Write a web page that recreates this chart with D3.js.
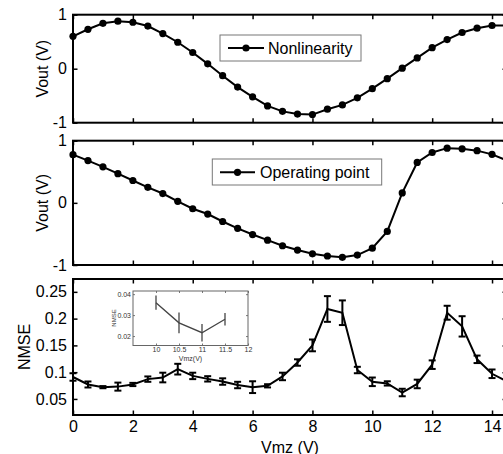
<!DOCTYPE html>
<html>
<head>
<meta charset="utf-8">
<script src="https://cdn.jsdelivr.net/npm/d3@7"></script>
<style>
    body { margin: 0; background: #fff; }
    svg { display: block; font-family: "Liberation Sans", Arial, sans-serif; }
</style>
</head>
<body>
<svg width="503" height="454"></svg>
<script>
const vmz = [0, 0.5, 1, 1.5, 2, 2.5, 3, 3.5, 4, 4.5, 5, 5.5, 6, 6.5, 7, 7.5,
    8, 8.5, 9, 9.5, 10, 10.5, 11, 11.5, 12, 12.5, 13, 13.5, 14, 14.5];

const nonlinearity = [0.60, 0.73, 0.84, 0.88, 0.86, 0.79, 0.65, 0.49, 0.30, 0.09,
    -0.13, -0.34, -0.52, -0.69, -0.79, -0.84, -0.85, -0.75, -0.67, -0.54,
    -0.37, -0.185, 0.01, 0.20, 0.39, 0.54, 0.67, 0.75, 0.80, 0.80];

const operatingPoint = [0.775, 0.68, 0.58, 0.47, 0.36, 0.25, 0.15, 0.025, -0.095, -0.18,
    -0.30, -0.41, -0.51, -0.60, -0.69, -0.76, -0.82, -0.855, -0.876, -0.84,
    -0.73, -0.46, 0.16, 0.65, 0.81, 0.88, 0.87, 0.84, 0.78, 0.68];

const nmse = [0.091, 0.077, 0.072, 0.073, 0.077, 0.087, 0.090, 0.1056, 0.093, 0.0875,
    0.0825, 0.076, 0.072, 0.0745, 0.092, 0.118, 0.150, 0.218, 0.211, 0.104,
    0.082, 0.079, 0.062, 0.078, 0.114, 0.211, 0.1855, 0.124, 0.097, 0.083];
const nmseErr = [0.007, 0.0056, 0.002, 0.0075, 0.003, 0.005, 0.009, 0.010, 0.006, 0.005,
    0.006, 0.006, 0.011, 0.003, 0.007, 0.006, 0.011, 0.024, 0.023, 0.006,
    0.008, 0.004, 0.007, 0.008, 0.008, 0.013, 0.019, 0.007, 0.008, 0.008];

// zoomed inset
const insetVmz = [10, 10.5, 11, 11.5];
const insetNmse = [0.0359, 0.0263, 0.0216, 0.028];
const insetErr = [0.0034, 0.005, 0.0042, 0.003];

const xTicks = [0, 2, 4, 6, 8, 10, 12, 14];
const voutTicks = [-1, 0, 1];
const nmseTicks = [0.05, 0.1, 0.15, 0.2, 0.25];
const insetXTicks = [10, 10.5, 11, 11.5, 12];
const insetYTicks = [0.02, 0.03, 0.04];

document.addEventListener("DOMContentLoaded", function() {

    const svg = d3.select("svg");

    const x = d3.scaleLinear().domain([0, 14.5]).range([73, 507]);

    const panels = [
        { y: d3.scaleLinear().domain([-1, 1]).range([122.7, 14.7]), ticks: voutTicks, label: "Vout (V)" },
        { y: d3.scaleLinear().domain([-1, 1]).range([265, 140.7]), ticks: voutTicks, label: "Vout (V)" },
        { y: d3.scaleLinear().domain([0.02, 0.274]).range([415, 279]), ticks: nmseTicks, label: "NMSE" }
    ];

    panels.forEach(function(p, i) {
        const g = svg.append("g");
        const [bottom, top] = p.y.range();

        const axes = [
            { ax: d3.axisBottom(x).tickValues(xTicks).tickFormat(i === 2 ? d3.format("d") : ""), t: `translate(0,${bottom})` },
            { ax: d3.axisTop(x).tickValues(xTicks).tickFormat(""), t: `translate(0,${top})` },
            { ax: d3.axisLeft(p.y).tickValues(p.ticks).tickFormat(d => String(d)), t: `translate(${x.range()[0]},0)` },
            { ax: d3.axisRight(p.y).tickValues(p.ticks).tickFormat(""), t: `translate(${x.range()[1]},0)` }
        ];
        axes.forEach(function(a) {
            const ag = g.append("g")
                .attr("transform", a.t)
                .call(a.ax.tickSizeInner(-4.5).tickSizeOuter(0).tickPadding(6));
            ag.select(".domain").remove();
            ag.selectAll(".tick line").attr("stroke", "#000").attr("stroke-width", 1.5);
            ag.selectAll(".tick text").attr("fill", "#000").attr("font-size", 16)
                .attr("font-family", "Liberation Sans, Arial, sans-serif");
        });

        g.append("rect")
            .attr("x", x.range()[0]).attr("y", top)
            .attr("width", x.range()[1] - x.range()[0]).attr("height", bottom - top)
            .attr("fill", "none").attr("stroke", "#000").attr("stroke-width", 2);

        g.append("text")
            .attr("transform", `translate(${i === 2 ? 30 : 47.5},${(top + bottom) / 2}) rotate(-90)`)
            .attr("text-anchor", "middle")
            .attr("font-size", 16)
            .text(p.label);
    });

    // line + marker series in first two panels
    [nonlinearity, operatingPoint].forEach(function(vals, i) {
        const y = panels[i].y;
        const line = d3.line().x((d, k) => x(vmz[k])).y(d => y(d));
        svg.append("path")
            .datum(vals)
            .attr("d", line)
            .attr("fill", "none").attr("stroke", "#000").attr("stroke-width", 2);
        svg.append("g").selectAll("circle")
            .data(vals)
            .enter()
            .append("circle")
            .attr("cx", (d, k) => x(vmz[k]))
            .attr("cy", d => y(d))
            .attr("r", 3.6)
            .attr("fill", "#000");
    });

    // legends
    const legends = [
        { text: "Nonlinearity", box: [220, 35, 141, 26], line: [228, 264], cy: 48, tx: 268, ty: 54 },
        { text: "Operating point", box: [212.3, 159, 169.4, 26], line: [220, 255], cy: 172.3, tx: 260, ty: 178.3 }
    ];
    legends.forEach(function(l) {
        const g = svg.append("g");
        g.append("rect")
            .attr("x", l.box[0]).attr("y", l.box[1]).attr("width", l.box[2]).attr("height", l.box[3])
            .attr("fill", "#fff").attr("stroke", "#777").attr("stroke-width", 1);
        g.append("line")
            .attr("x1", l.line[0]).attr("x2", l.line[1]).attr("y1", l.cy).attr("y2", l.cy)
            .attr("stroke", "#000").attr("stroke-width", 2);
        g.append("circle")
            .attr("cx", (l.line[0] + l.line[1]) / 2).attr("cy", l.cy).attr("r", 3.6).attr("fill", "#000");
        g.append("text")
            .attr("x", l.tx).attr("y", l.ty).attr("font-size", 16).text(l.text);
    });

    // NMSE with error bars
    const yN = panels[2].y;
    svg.append("path")
        .datum(nmse)
        .attr("d", d3.line().x((d, k) => x(vmz[k])).y(d => yN(d)))
        .attr("fill", "none").attr("stroke", "#000").attr("stroke-width", 2);
    const bars = svg.append("g").selectAll("g")
        .data(nmse)
        .enter()
        .append("g")
        .attr("stroke", "#000").attr("stroke-width", 2);
    bars.append("line")
        .attr("x1", (d, k) => x(vmz[k])).attr("x2", (d, k) => x(vmz[k]))
        .attr("y1", (d, k) => yN(d - nmseErr[k])).attr("y2", (d, k) => yN(d + nmseErr[k]));
    [-1, 1].forEach(function(s) {
        bars.append("line")
            .attr("x1", (d, k) => x(vmz[k]) - 3.5).attr("x2", (d, k) => x(vmz[k]) + 3.5)
            .attr("y1", (d, k) => yN(d + s * nmseErr[k])).attr("y2", (d, k) => yN(d + s * nmseErr[k]));
    });

    // inset
    const ix = d3.scaleLinear().domain([9.5, 12]).range([133, 248]);
    const iy = d3.scaleLinear().domain([0.0155, 0.0415]).range([345.5, 291]);
    const inset = svg.append("g");
    inset.append("rect")
        .attr("x", 133).attr("y", 291).attr("width", 115).attr("height", 54.5)
        .attr("fill", "#fff");

    const insetAxes = [
        { ax: d3.axisBottom(ix).tickValues(insetXTicks).tickFormat(d => String(d)), t: "translate(0,345.5)" },
        { ax: d3.axisTop(ix).tickValues(insetXTicks).tickFormat(""), t: "translate(0,291)" },
        { ax: d3.axisLeft(iy).tickValues(insetYTicks).tickFormat(d => String(d)), t: "translate(133,0)" },
        { ax: d3.axisRight(iy).tickValues(insetYTicks).tickFormat(""), t: "translate(248,0)" }
    ];
    insetAxes.forEach(function(a) {
        const ag = inset.append("g")
            .attr("transform", a.t)
            .call(a.ax.tickSizeInner(-2).tickSizeOuter(0).tickPadding(2));
        ag.select(".domain").remove();
        ag.selectAll(".tick line").attr("stroke", "#555").attr("stroke-width", 0.8);
        ag.selectAll(".tick text").attr("fill", "#333").attr("font-size", 7)
            .attr("font-family", "Liberation Sans, Arial, sans-serif");
    });
    inset.append("rect")
        .attr("x", 133).attr("y", 291).attr("width", 115).attr("height", 54.5)
        .attr("fill", "none").attr("stroke", "#666").attr("stroke-width", 1);

    inset.append("path")
        .datum(insetNmse)
        .attr("d", d3.line().x((d, k) => ix(insetVmz[k])).y(d => iy(d)))
        .attr("fill", "none").attr("stroke", "#444").attr("stroke-width", 1.3);
    inset.append("g").selectAll("line")
        .data(insetNmse)
        .enter()
        .append("line")
        .attr("x1", (d, k) => ix(insetVmz[k])).attr("x2", (d, k) => ix(insetVmz[k]))
        .attr("y1", (d, k) => iy(d - insetErr[k])).attr("y2", (d, k) => iy(d + insetErr[k]))
        .attr("stroke", "#444").attr("stroke-width", 1.3);

    inset.append("text")
        .attr("x", 190.5).attr("y", 361)
        .attr("text-anchor", "middle").attr("font-size", 7).attr("fill", "#333")
        .text("Vmz(V)");
    inset.append("text")
        .attr("transform", "translate(115.5,318) rotate(-90)")
        .attr("text-anchor", "middle").attr("font-size", 6).attr("fill", "#333")
        .text("NMSE");

    // x label
    svg.append("text")
        .attr("x", 290).attr("y", 452.5)
        .attr("text-anchor", "middle").attr("font-size", 16)
        .text("Vmz (V)");
});
</script>
</body>
</html>
